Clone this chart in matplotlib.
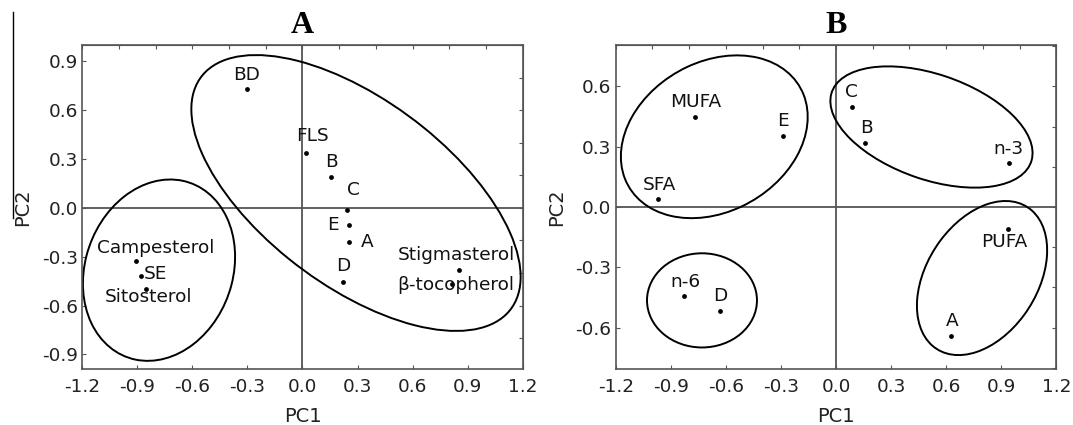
import numpy as np
import matplotlib
matplotlib.use('Agg')
import matplotlib.pyplot as plt
from matplotlib.patches import Ellipse
from matplotlib.lines import Line2D

plt.rcParams['font.family'] = ['DejaVu Sans']
plt.rcParams['axes.unicode_minus'] = False

# panel A - sterols / tocopherol loadings and samples
a_names = ['BD', 'FLS', 'B', 'C', 'E', 'A', 'D', 'Stigmasterol', 'β-tocopherol',
           'Campesterol', 'SE', 'Sitosterol']
a_pc1 = [-0.305, 0.018, 0.158, 0.245, 0.254, 0.254, 0.222, 0.851, 0.815, -0.909, -0.882, -0.851]
a_pc2 = [0.727, 0.339, 0.187, -0.015, -0.103, -0.212, -0.456, -0.384, -0.470, -0.325, -0.417, -0.499]
# cluster ellipses: centre x, centre y, width, height, angle
a_groups = [(0.2915, 0.091, 2.214, 1.091, -42.3),
            (-0.782, -0.383, 0.81, 1.128, -13.1)]

# panel B - fatty acid classes
b_names = ['MUFA', 'E', 'SFA', 'C', 'B', 'n-3', 'PUFA', 'A', 'n-6', 'D']
b_pc1 = [-0.766, -0.290, -0.970, 0.089, 0.160, 0.941, 0.937, 0.627, -0.826, -0.630]
b_pc2 = [0.447, 0.355, 0.039, 0.495, 0.317, 0.219, -0.109, -0.640, -0.441, -0.518]
b_groups = [(-0.663, 0.349, 1.059, 0.754, 23.2),
            (0.520, 0.3975, 1.140, 0.526, -16.9),
            (-0.730, -0.464, 0.599, 0.468, 0.0),
            (0.7955, -0.353, 0.863, 0.587, 51.0)]

xticks = [-1.2, -0.9, -0.6, -0.3, 0.0, 0.3, 0.6, 0.9, 1.2]
a_yticks = [-0.9, -0.6, -0.3, 0.0, 0.3, 0.6, 0.9]
b_yticks = [-0.6, -0.3, 0.0, 0.3, 0.6]

# label placement (pixels from the dot)
a_off = {'BD': (0, 14, 'center'), 'FLS': (7, 17, 'center'), 'B': (0, 15, 'center'),
         'C': (6, 20, 'center'), 'E': (-16, 0, 'center'), 'A': (18, 0, 'center'),
         'D': (0, 16, 'center'), 'Stigmasterol': (-2, 15, 'center'),
         'β-tocopherol': (4, -1, 'center'), 'Campesterol': (20, 13, 'center'),
         'SE': (3, 2, 'left'), 'Sitosterol': (2, -8, 'center')}
b_off = {'MUFA': (0, 15, 'center'), 'E': (0, 15, 'center'), 'SFA': (1, 14, 'center'),
         'C': (-1, 15, 'center'), 'B': (1, 15, 'center'), 'n-3': (0, 14, 'center'),
         'PUFA': (-4, -13, 'center'), 'A': (1, 15, 'center'), 'n-6': (1, 14, 'center'),
         'D': (0, 15, 'center')}

grey = '#555555'


def panel(ax, title, names, pc1, pc2, off, groups, ylim, yticks):
    ax.axhline(0, color=grey, lw=1.3, zorder=1)
    ax.axvline(0, color=grey, lw=1.3, zorder=1)
    ax.scatter(pc1, pc2, s=12, color='black', zorder=3, linewidths=0)
    for n, x, y in zip(names, pc1, pc2):
        dx, dy, ha = off[n]
        ax.annotate(n, (x, y), xytext=(dx, dy), textcoords='offset pixels',
                    ha=ha, va='center', fontsize=13.3, color='#111111')
    for cx, cy, w, h, ang in groups:
        ax.add_patch(Ellipse((cx, cy), w, h, angle=ang, fill=False, lw=1.4,
                             edgecolor='black', zorder=2))
    ax.set_xlim(-1.2, 1.2)
    ax.set_ylim(*ylim)
    ax.set_xticks(xticks)
    ax.set_yticks(yticks)
    ax.set_xticklabels(['%.1f' % v for v in xticks])
    ax.set_yticklabels(['%.1f' % v for v in yticks])
    ax.tick_params(direction='in', length=3, color=grey, labelsize=13.3,
                   labelcolor='#222222')
    ax.tick_params(axis='x', pad=6.5)
    ax.tick_params(axis='y', pad=3)
    for s in ax.spines.values():
        s.set_color(grey)
        s.set_linewidth(1.2)
    ax.set_xlabel('PC1', fontsize=14, color='#222222', labelpad=8)
    ax.set_ylabel('PC2', fontsize=14, color='#222222', labelpad=7)
    ax.set_title(title, fontfamily='Liberation Serif', fontweight='bold',
                 fontsize=23, pad=9)
    # finer ticks along the top and right frame
    top = ax.secondary_xaxis('top')
    top.set_xticks(np.arange(-1.2, 1.21, 0.2))
    top.tick_params(direction='in', length=3, color=grey, labeltop=False)
    top.spines['top'].set_color(grey)
    right = ax.secondary_yaxis('right')
    right.set_yticks(np.arange(-1.0, 1.01, 0.2))
    right.tick_params(direction='in', length=3, color=grey, labelright=False)
    right.spines['right'].set_color(grey)


fig = plt.figure(figsize=(10.73, 4.25), dpi=100)
axA = fig.add_axes([82.3 / 1073, 56 / 425, 440.4 / 1073, 324 / 425])
axB = fig.add_axes([615.7 / 1073, 56 / 425, 440.6 / 1073, 324 / 425])

panel(axA, 'A', a_names, a_pc1, a_pc2, a_off, a_groups, (-0.99, 1.0), a_yticks)
panel(axB, 'B', b_names, b_pc1, b_pc2, b_off, b_groups, (-0.805, 0.805), b_yticks)

# stray rule at the left edge of the scanned figure
fig.add_artist(Line2D([12.7 / 1073, 12.7 / 1073], [1 - 11.7 / 425, 1 - 218 / 425],
                      color='black', lw=1))

fig.savefig('out.png', dpi=100)
